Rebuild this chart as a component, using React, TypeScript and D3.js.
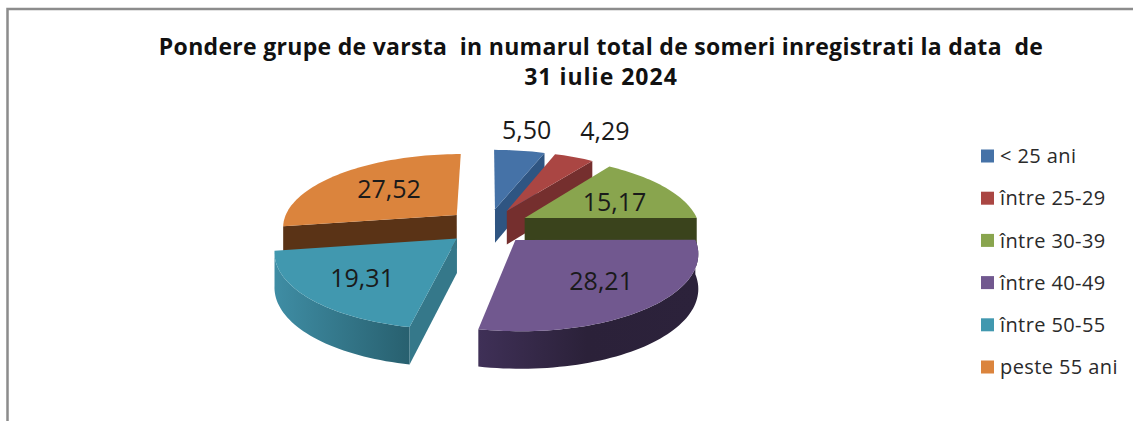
import React from "react";
import * as d3 from "d3";

const titleLines = ["Pondere grupe de varsta  in numarul total de someri inregistrati la data  de", "31 iulie 2024"];
const titleSpacing = [0.3, 1];
const categories = ["< 25 ani", "între 25-29", "între 30-39", "între 40-49", "între 50-55", "peste 55 ani"];
const values = [5.5, 4.29, 15.17, 28.21, 19.31, 27.52];
const valueLabels = ["5,50", "4,29", "15,17", "28,21", "19,31", "27,52"];
const topColors = ["#4572a7", "#aa4643", "#89a54e", "#71588f", "#4198af", "#db843d"];
const edgeColors = ["#2f5582", "#752f2e", "#3a431c", "#2a2138", "#35788a", "#5a3316"];
const labelRadii = [1.1, 1.22, 0.53, 0.75, 0.76, 0.5];
const labelNudgeX = [5, 18, 13, -11, 15, -7];
const labelNudgeY = [-16, -16, 1, -8, -4, -4];

const W = 1133, H = 421;
const cx = 488, cy = 226, RX = 175, RY = 73, K = 0.15, DEPTH = 34, EXPLODE = 0.24;

const pie = d3.pie<number>().sort(null).value((d) => d);
const arcs = pie(values);
const legendY = d3.scalePoint<string>().domain(categories).range([156, 367]);

type P = [number, number];
const project = (X: number, Y: number, z = 0): P => {
  const w = 1 - K * Y;
  return [cx + (RX * X) / w, cy + (RY * Y) / w + (z * DEPTH) / Math.sqrt(w)];
};
const inPlane = (mid: number, a: number, r: number): P => {
  const ox = Math.sin(mid) * EXPLODE, oy = -Math.cos(mid) * EXPLODE;
  return [ox + Math.sin(a) * r, oy - Math.cos(a) * r];
};
const line = d3.line<P>();
const angles = (a0: number, a1: number) => {
  const n = Math.max(4, Math.ceil(Math.abs(a1 - a0) / 0.03));
  return d3.range(n + 1).map((i) => a0 + ((a1 - a0) * i) / n);
};
const pt = (mid: number, a: number, r: number, z = 0) => {
  const [X, Y] = inPlane(mid, a, r);
  return project(X, Y, z);
};
const topFace = (s: d3.PieArcDatum<number>) => {
  const mid = (s.startAngle + s.endAngle) / 2;
  return line([pt(mid, 0, 0), ...angles(s.startAngle, s.endAngle).map((a) => pt(mid, a, 1))])! + "Z";
};
const radialFace = (s: d3.PieArcDatum<number>, a: number) => {
  const mid = (s.startAngle + s.endAngle) / 2;
  return line([pt(mid, 0, 0), pt(mid, a, 1), pt(mid, a, 1, 1), pt(mid, 0, 0, 1)])! + "Z";
};
const wall = (s: d3.PieArcDatum<number>, a0: number, a1: number) => {
  const mid = (s.startAngle + s.endAngle) / 2;
  const as = angles(a0, a1);
  return line([...as.map((a) => pt(mid, a, 1)), ...as.slice().reverse().map((a) => pt(mid, a, 1, 1))])! + "Z";
};

// Draw order: back slices first, front slices last. Which faces show follows the reference view.
const [blue, red, green, purple, teal, orange] = arcs;

export default function App() {
  const tealEnds = [pt((teal.startAngle + teal.endAngle) / 2, teal.startAngle, 1)[0], pt((teal.startAngle + teal.endAngle) / 2, teal.endAngle, 1)[0]];
  const purpEnds = [pt((purple.startAngle + purple.endAngle) / 2, purple.startAngle, 1)[0], pt((purple.startAngle + purple.endAngle) / 2, purple.endAngle, 1)[0]];
  return (
    <svg width={W} height={H} style={{ position: "absolute", left: 0, top: 0 }}>
      <defs>
        <linearGradient id="tealWall" gradientUnits="userSpaceOnUse" x1={tealEnds[1]} x2={tealEnds[0]} y1={0} y2={0}>
          <stop offset="0" stopColor="#3f8da4" />
          <stop offset="1" stopColor="#28606f" />
        </linearGradient>
        <linearGradient id="purpleWall" gradientUnits="userSpaceOnUse" x1={purpEnds[1]} x2={purpEnds[0]} y1={0} y2={0}>
          <stop offset="0" stopColor="#3f3057" />
          <stop offset="0.5" stopColor="#2b2139" />
          <stop offset="1" stopColor="#2c223b" />
        </linearGradient>
      </defs>
      <path d={`M7.5 ${H}V9H${W}`} fill="none" stroke="#8c8c8c" strokeWidth={2.5} />
      <text fontFamily="'Open Sans', sans-serif" fontWeight={700} fontSize={23} textAnchor="middle" fill="#111" style={{ whiteSpace: "pre" }}>
        {titleLines.map((t, i) => (
          <tspan key={i} x={601} y={55 + i * 30} letterSpacing={titleSpacing[i]}>{t}</tspan>
        ))}
      </text>

      <path d={radialFace(orange, orange.startAngle)} fill={edgeColors[5]} />
      <path d={topFace(orange)} fill={topColors[5]} />
      <path d={radialFace(blue, blue.endAngle)} fill={edgeColors[0]} />
      <path d={topFace(blue)} fill={topColors[0]} />
      <path d={radialFace(red, red.endAngle)} fill={edgeColors[1]} />
      <path d={topFace(red)} fill={topColors[1]} />
      <path d={radialFace(green, green.endAngle)} fill={edgeColors[2]} />
      <path d={topFace(green)} fill={topColors[2]} />
      <path d={wall(teal, teal.startAngle, teal.endAngle)} fill="url(#tealWall)" />
      <path d={radialFace(teal, teal.startAngle)} fill={edgeColors[4]} />
      <path d={topFace(teal)} fill={topColors[4]} />
      <path d={wall(purple, purple.startAngle, purple.endAngle)} fill="url(#purpleWall)" />
      <path d={topFace(purple)} fill={topColors[3]} />

      {arcs.map((s, i) => {
        const mid = (s.startAngle + s.endAngle) / 2;
        const [x, y] = pt(mid, mid, labelRadii[i]);
        return (
          <text key={i} x={x + labelNudgeX[i]} y={y + labelNudgeY[i]} dy="0.36em" textAnchor="middle" fontFamily="'Open Sans', sans-serif" fontSize={25} fill="#1a1a1a">
            {valueLabels[i]}
          </text>
        );
      })}

      {categories.map((c, i) => (
        <g key={c}>
          <rect x={981} y={legendY(c)! - 6.5} width={13} height={13} fill={topColors[i]} />
          <text x={1000} y={legendY(c)!} dy="0.36em" fontFamily="'Open Sans', sans-serif" fontSize={20} letterSpacing={0.4} fill="#2a2a2a">{c}</text>
        </g>
      ))}
    </svg>
  );
}
